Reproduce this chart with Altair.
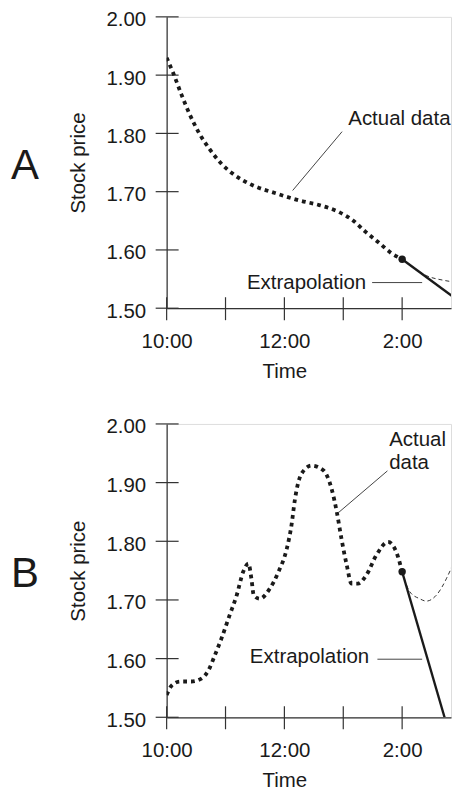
import altair as alt
import pandas as pd

FONT = "Liberation Sans"
INK = "#1a1a1a"
AXIS = "#333333"
FS = 20.5

# ---------------- data ----------------
# Panel A : actual (dotted) series
a_time = [10.0, 10.11, 10.25, 10.39, 10.56, 10.73, 10.93, 11.12, 11.46, 11.86,
          12.25, 12.59, 12.93, 13.16, 13.38, 13.61, 13.81, 14.0]
a_price = [1.930, 1.904, 1.867, 1.833, 1.799, 1.773, 1.748, 1.731, 1.711, 1.697,
           1.685, 1.677, 1.665, 1.651, 1.631, 1.612, 1.595, 1.584]
a_extrap_time = [14.0, 14.97]
a_extrap_price = [1.584, 1.512]
a_alt_time = [14.0, 14.2, 14.41, 14.7, 14.97]
a_alt_price = [1.584, 1.569, 1.556, 1.548, 1.544]
a_dot_time = [14.0]
a_dot_price = [1.584]

# Panel B : actual (dotted) series
b_time = [10.0, 10.085, 10.23, 10.42, 10.59, 10.71, 10.82, 10.93, 11.07, 11.19,
          11.30, 11.39, 11.44, 11.48, 11.58, 11.75, 11.90, 12.04, 12.12, 12.18,
          12.29, 12.46, 12.66, 12.80, 12.89, 12.97, 13.06, 13.14, 13.25, 13.39,
          13.56, 13.76, 13.90, 14.0]
b_price = [1.538, 1.554, 1.561, 1.561, 1.566, 1.580, 1.606, 1.634, 1.674, 1.708,
           1.748, 1.762, 1.736, 1.708, 1.702, 1.719, 1.748, 1.787, 1.827, 1.872,
           1.915, 1.929, 1.921, 1.890, 1.850, 1.804, 1.759, 1.728, 1.728, 1.742,
           1.776, 1.799, 1.782, 1.748]
b_extrap_time = [14.0, 14.72]
b_extrap_price = [1.748, 1.50]
b_alt_time = [14.0, 14.13, 14.30, 14.41, 14.58, 14.75, 14.89, 14.98]
b_alt_price = [1.748, 1.714, 1.702, 1.698, 1.708, 1.736, 1.770, 1.804]
b_dot_time = [14.0]
b_dot_price = [1.748]

# axes
y_tick_values = [1.50, 1.60, 1.70, 1.80, 1.90, 2.00]
x_tick_values = [10, 11, 12, 13, 14]
x_label_values = [10, 12, 14]
x_tick_labels = ["10:00", "12:00", "2:00"]
x_domain = [10, 14.83]
y_domain = [1.50, 2.00]

# annotations
a_labels = {"actual": ("Actual data", 13.085, 1.825),
            "extrap": ("Extrapolation", 13.39, 1.544),
            "lead_actual": (12.98, 1.803, 12.14, 1.702),
            "lead_extrap": (13.49, 1.544, 14.34, 1.544),
            "panel": "A"}
b_labels = {"actual": ("Actual\ndata", 13.78, 1.973),
            "extrap": ("Extrapolation", 13.44, 1.602),
            "lead_actual": (13.75, 1.920, 12.92, 1.849),
            "lead_extrap": (13.58, 1.599, 14.34, 1.599),
            "panel": "B"}

W = 285

label_expr = " : ".join(
    f"datum.value == {v} ? '{t}'" for v, t in zip(x_label_values, x_tick_labels)
) + " : ''"


def xenc(title_y, label_pad):
    return alt.X(
        "h:Q",
        scale=alt.Scale(domain=x_domain, nice=False, zero=False),
        axis=alt.Axis(
            values=x_label_values, labelExpr=label_expr, ticks=False, tickSize=0,
            grid=False, domainColor=AXIS, domainWidth=1.2,
            labelFont=FONT, labelFontSize=FS, labelColor=INK,
            labelBaseline="alphabetic", labelPadding=label_pad, labelAlign="center",
            title="Time", titleFont=FONT, titleFontSize=FS, titleFontWeight="normal",
            titleColor=INK, titleX=118, titleY=title_y, titleBaseline="alphabetic",
            titleAlign="center",
        ),
    )


def yenc(h):
    return alt.Y(
        "v:Q",
        scale=alt.Scale(domain=y_domain, nice=False, zero=False),
        axis=alt.Axis(
            values=y_tick_values, format=".2f", ticks=False, tickSize=0,
            grid=False, domainColor=AXIS, domainWidth=1.2,
            labelFont=FONT, labelFontSize=FS, labelColor=INK,
            labelAlign="right", labelBaseline="middle", labelPadding=21,
            labelOffset=3,
            title="Stock price", titleFont=FONT, titleFontSize=FS,
            titleFontWeight="normal", titleColor=INK, titleAngle=270,
            titleX=-82, titleY=h / 2, titleBaseline="alphabetic", titleAlign="center",
        ),
    )


def panel(t, p, et, ep, at, ap, dt, dp, lab, H, title_y, label_pad):
    X = lambda: xenc(title_y, label_pad)
    Y = lambda: yenc(H)
    actual = pd.DataFrame({"h": t, "v": p})
    extrap = pd.DataFrame({"h": et, "v": ep})
    alt_curve = pd.DataFrame({"h": at, "v": ap})
    dot = pd.DataFrame({"h": dt, "v": dp})
    yticks = pd.DataFrame({"v": y_tick_values})
    xticks = pd.DataFrame({"h": x_tick_values})
    leads = pd.DataFrame(
        [dict(h=l[0], v=l[1], h2=l[2], v2=l[3]) for l in (lab["lead_actual"], lab["lead_extrap"])]
    )
    txt_left = pd.DataFrame([{"label": lab["actual"][0], "h": lab["actual"][1], "v": lab["actual"][2]}])
    txt_right = pd.DataFrame([{"label": lab["extrap"][0], "h": lab["extrap"][1], "v": lab["extrap"][2]}])
    pan = pd.DataFrame({"label": [lab["panel"]]})

    ytick_layer = alt.Chart(yticks).mark_rule(color=AXIS, strokeWidth=1.2).encode(
        y=Y(), x=alt.value(-11), x2=alt.value(12))
    xtick_layer = alt.Chart(xticks).mark_rule(color=AXIS, strokeWidth=1.2).encode(
        x=X(), y=alt.value(H - 11), y2=alt.value(H + 12))
    alt_layer = alt.Chart(alt_curve).mark_line(
        color="#333333", strokeWidth=1, strokeDash=[4, 3], interpolate="monotone", clip=True
    ).encode(x=X(), y=Y())
    actual_layer = alt.Chart(actual).mark_line(
        color=INK, strokeWidth=3.8, strokeDash=[3.8, 4], strokeCap="butt",
        interpolate="monotone", clip=True
    ).encode(x=X(), y=Y())
    extrap_layer = alt.Chart(extrap).mark_line(
        color=INK, strokeWidth=2.4, clip=True
    ).encode(x=X(), y=Y())
    dot_layer = alt.Chart(dot).mark_circle(color=INK, size=55, opacity=1).encode(
        x=X(), y=Y())
    lead_layer = alt.Chart(leads).mark_rule(color="#444444", strokeWidth=1).encode(
        x=X(), y=Y(), x2="h2:Q", y2="v2:Q")
    tl = alt.Chart(txt_left).mark_text(
        font=FONT, fontSize=FS, color=INK, align="left", baseline="middle",
        lineBreak="\n", lineHeight=23
    ).encode(x=X(), y=Y(), text="label:N")
    tr = alt.Chart(txt_right).mark_text(
        font=FONT, fontSize=FS, color=INK, align="right", baseline="middle"
    ).encode(x=X(), y=Y(), text="label:N")
    pl = alt.Chart(pan).mark_text(
        font=FONT, fontSize=42, color=INK, align="center", baseline="middle"
    ).encode(x=alt.value(-142), y=alt.value(150), text="label:N")

    return alt.layer(
        ytick_layer, xtick_layer, alt_layer, actual_layer, extrap_layer,
        dot_layer, lead_layer, tl, tr, pl
    ).properties(width=W, height=H)


pa = panel(a_time, a_price, a_extrap_time, a_extrap_price, a_alt_time, a_alt_price,
           a_dot_time, a_dot_price, a_labels, 292, 69, 39)
pb = panel(b_time, b_price, b_extrap_time, b_extrap_price, b_alt_time, b_alt_price,
           b_dot_time, b_dot_price, b_labels, 294, 69, 39)

chart = alt.vconcat(pa, pb, spacing=34).properties(
    padding={"left": 2, "top": 0, "right": 0, "bottom": 0}
).configure_view(stroke=None).configure(background="white")

chart.save("out.html", embed_options={"renderer": "svg", "actions": False})
